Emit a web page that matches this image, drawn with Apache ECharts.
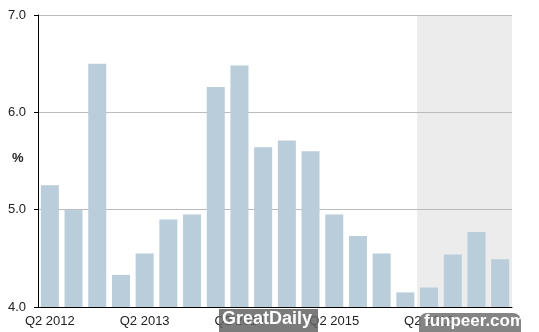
<!DOCTYPE html>
<html><head><meta charset="utf-8">
<script src="https://cdn.jsdelivr.net/npm/echarts@6/dist/echarts.min.js"></script>
<style>html,body{margin:0;padding:0;background:#fff}#c{width:539px;height:332px}</style>
</head><body><div id="c"></div>
<script>
var categories = ["Q2 2012","Q3 2012","Q4 2012","Q1 2013","Q2 2013","Q3 2013","Q4 2013","Q1 2014","Q2 2014","Q3 2014","Q4 2014","Q1 2015","Q2 2015","Q3 2015","Q4 2015","Q1 2016","Q2 2016","Q3 2016","Q4 2016","Q1 2017"];
var values = [5.25,5.0,6.5,4.33,4.55,4.9,4.95,6.26,6.48,5.64,5.71,5.6,4.95,4.73,4.55,4.15,4.2,4.54,4.77,4.49];
var shadeStart = 16, shadeEnd = 20; // category index range of forecast shading
var yTicks = [4,5,6,7];
var chart = echarts.init(document.getElementById('c'));
var font = 'Liberation Sans, Arial, sans-serif';
chart.setOption({
  animation:false,
  grid:{left:38,right:27,top:15,bottom:25,containLabel:false,outerBoundsMode:'none'},
  xAxis:[{type:'category',data:categories,z:1,
    axisLine:{lineStyle:{color:'#000',width:1}},axisTick:{show:false},
    axisLabel:{interval:3,color:'#222',fontFamily:font,fontSize:13,margin:8}},
    {type:'value',min:0,max:categories.length,show:false}],
  yAxis:{type:'value',min:4,max:7,interval:1,z:1,
    axisLine:{show:true,lineStyle:{color:'#000'}},
    axisTick:{show:true,length:4,lineStyle:{color:'#000'}},
    axisLabel:{color:'#222',fontFamily:font,fontSize:13,margin:12,formatter:function(v){return v.toFixed(1);}},
    splitLine:{lineStyle:{color:'#bbb'}}},
  series:[
    {type:'line',xAxisIndex:1,data:[],silent:true,z:-1,
      markArea:{silent:true,itemStyle:{color:'#ececec'},z:-1,
        data:[[{xAxis:shadeStart,yAxis:7},{xAxis:shadeEnd,yAxis:4}]]}},
    {type:'bar',data:values,barWidth:18,itemStyle:{color:'#b9cddb'},z:3}
  ],
  graphic:[
    {type:'text',left:12,top:152,style:{text:'%',fill:'#222',font:'bold 13px '+font},z:10},
    {type:'rect',left:219,top:309,shape:{width:99,height:23},style:{fill:'rgba(100,100,100,0.85)'},z:100},
    {type:'text',left:222,top:310,style:{text:'GreatDaily',fill:'#fff',font:'bold 18px '+font},z:101},
    {type:'rect',left:419,top:313,shape:{width:102,height:19,r:[8,8,0,0]},style:{fill:'rgba(110,110,110,0.85)'},z:100},
    {type:'text',left:424,top:313,style:{text:'funpeer.com',fill:'#fff',font:'bold 17px '+font},z:101}
  ]
});
</script></body></html>
